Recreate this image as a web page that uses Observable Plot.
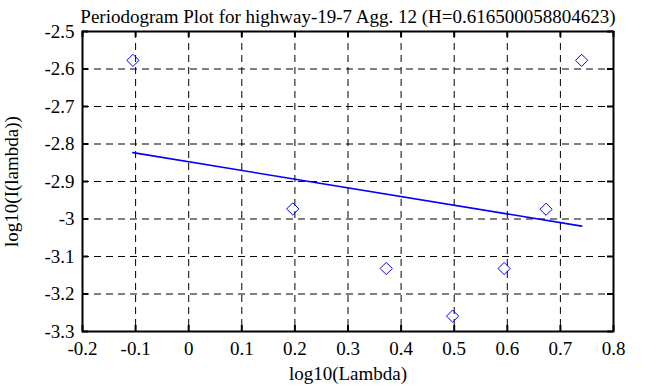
<!DOCTYPE html>
<html><head><meta charset="utf-8">
<script src="https://cdn.jsdelivr.net/npm/d3@7"></script>
<script src="https://cdn.jsdelivr.net/npm/@observablehq/plot@0.6"></script>
<style>
body{margin:0;background:#fff;}
svg{font-family:"Liberation Serif","Times New Roman",serif;}
</style></head><body><div id="chart"></div>
<script>
const titleText = "Periodogram Plot for highway-19-7 Agg. 12 (H=0.616500058804623)";
const xLabel = "log10(Lambda)";
const yLabel = "log10(I(lambda))";
const logLambda = [-0.105, 0.196, 0.372, 0.497, 0.594, 0.673, 0.740];
const logI = [-2.577, -2.973, -3.132, -3.259, -3.132, -2.974, -2.577];
const fitX = [-0.105, 0.740];
const fitY = [-2.823, -3.019];
const xTicks = [-0.2,-0.1,0,0.1,0.2,0.3,0.4,0.5,0.6,0.7,0.8];
const yTicks = [-2.5,-2.6,-2.7,-2.8,-2.9,-3,-3.1,-3.2,-3.3];

const pts = logLambda.map((x,i)=>({x, y: logI[i]}));
const fit = fitX.map((x,i)=>({x, y: fitY[i]}));
const fmt = d => String(+d.toFixed(1));
const W = 668, H = 387, mL = 82, mR = 55, mT = 31, mB = 56;
const ih = H - mT - mB, iw = W - mL - mR, tk = 6;
const ff = "'Liberation Serif', serif";

const chart = Plot.plot({
  width: W, height: H,
  marginLeft: mL, marginRight: mR, marginTop: mT, marginBottom: mB,
  style: {fontSize: "19px", fontFamily: ff, color: "black", background: "white", overflow: "visible"},
  x: {domain: [-0.2, 0.8], ticks: xTicks, tickFormat: fmt},
  y: {domain: [-3.3, -2.5], ticks: yTicks, tickFormat: fmt},
  marks: [
    Plot.gridX(xTicks.slice(1,-1), {stroke: "black", strokeOpacity: 1, strokeDasharray: "7,5"}),
    Plot.gridY(yTicks.slice(1,-1), {stroke: "black", strokeOpacity: 1, strokeDasharray: "7,5"}),
    Plot.tickX(xTicks, {x: d=>d, stroke: "black", strokeWidth: 2, insetTop: ih - tk}),
    Plot.tickX(xTicks, {x: d=>d, stroke: "black", strokeWidth: 2, insetBottom: ih - tk}),
    Plot.tickY(yTicks, {y: d=>d, stroke: "black", strokeWidth: 2, insetRight: iw - tk}),
    Plot.tickY(yTicks, {y: d=>d, stroke: "black", strokeWidth: 2, insetLeft: iw - tk}),
    Plot.axisX({ticks: xTicks, tickFormat: fmt, tickSize: 0, tickPadding: 10, fontSize: 19, fontFamily: ff,
      label: xLabel, labelAnchor: "center", labelArrow: "none", labelOffset: 48}),
    Plot.axisY({ticks: yTicks, tickFormat: fmt, tickSize: 0, tickPadding: 8, fontSize: 19, fontFamily: ff,
      label: yLabel, labelAnchor: "center", labelArrow: "none", labelOffset: 78}),
    Plot.frame({stroke: "black", strokeWidth: 2}),
    Plot.line(fit, {x: "x", y: "y", stroke: "#0000ff", strokeWidth: 1.6}),
    Plot.dot(pts, {x: "x", y: "y", symbol: "diamond2", r: 5.5, stroke: "#0000ff", fill: "none", strokeWidth: 1}),
    Plot.text([titleText], {frameAnchor: "top", dy: -22, fontSize: 19, fontFamily: ff, fill: "black"})
  ]
});
document.getElementById("chart").appendChild(chart);
</script></body></html>
